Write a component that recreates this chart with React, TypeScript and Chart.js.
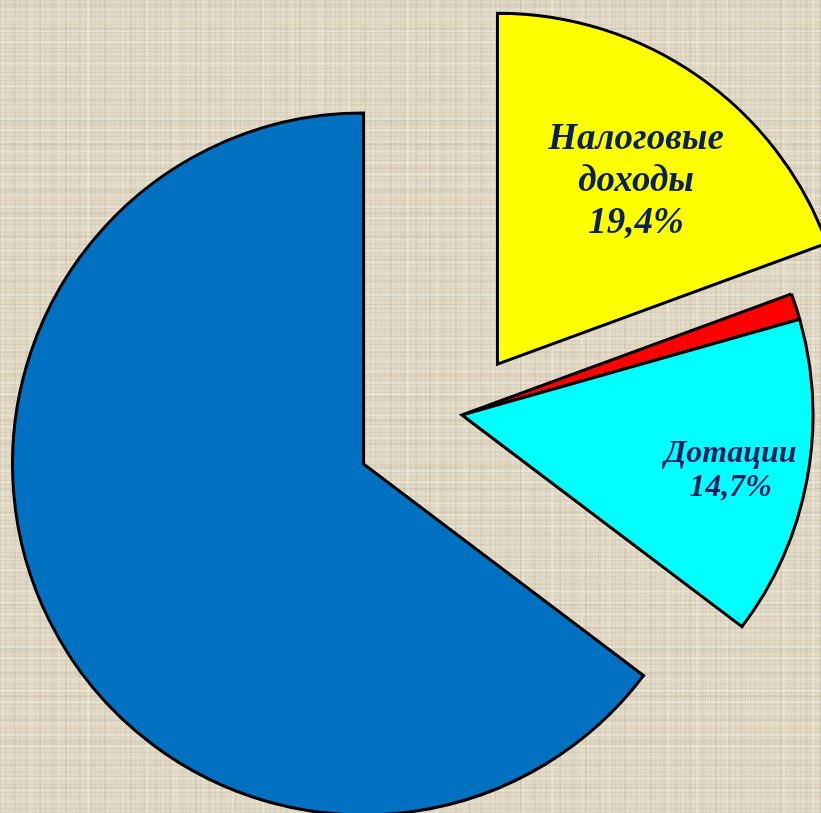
import React, { useEffect, useRef } from "react";
import { Chart, registerables } from "chart.js";

Chart.register(...registerables);

// ---- data ----
const categories = ["Налоговые доходы", "Неналоговые доходы", "Дотации", "Субвенции"];
const shares = [19.4, 1.2, 14.7, 64.7];
const sliceColors = ["#ffff00", "#ff0000", "#00ffff", "#0070c0"];
// which slices carry a text label (lines of category text)
const labelLines: (string[] | null)[] = [["Налоговые", "доходы"], null, ["Дотации"], null];

// ---- styles ----
const explode = [62, 0, 0, 110]; // px the slice is pulled out along its mid-angle
const labelRadiusFrac = [0.66, 0, 0.78, 0];
const labelAngleShift = [0.032, 0, 0.01, 0];
const labelFontSize = [37, 0, 32, 0];
const labelLineHeight = [42, 0, 34, 0];
const TEXT_COLOR = "#0a1f5e";
const FONT_FAMILY = "'Times New Roman', 'Liberation Serif', serif";

const fmtPct = (v: number) => v.toFixed(1).replace(".", ",") + "%";

const explodePlugin = {
  id: "explodeDraw",
  beforeDatasetDraw(chart: any, args: any) {
    const ctx = chart.ctx;
    const meta = args.meta;
    meta.data.forEach((arc: any, i: number) => {
      const { startAngle, endAngle } = arc.getProps(["startAngle", "endAngle"], true);
      const mid = (startAngle + endAngle) / 2;
      const d = explode[i] || 0;
      ctx.save();
      ctx.miterLimit = 2.5;
      ctx.translate(Math.cos(mid) * d, Math.sin(mid) * d);
      arc.draw(ctx, chart.chartArea);
      ctx.restore();
    });
    return false;
  },
};

const labelPlugin = {
  id: "sliceLabels",
  afterDatasetsDraw(chart: any) {
    const ctx = chart.ctx;
    const meta = chart.getDatasetMeta(0);
    const values = chart.data.datasets[0].data as number[];
    meta.data.forEach((arc: any, i: number) => {
      const lines = labelLines[i];
      if (!lines) return;
      const { x, y, startAngle, endAngle, outerRadius } = arc.getProps(
        ["x", "y", "startAngle", "endAngle", "outerRadius"],
        true
      );
      const mid = (startAngle + endAngle) / 2;
      const d = explode[i] || 0;
      const ox = x + Math.cos(mid) * d;
      const oy = y + Math.sin(mid) * d;
      const la = mid + labelAngleShift[i];
      const r = outerRadius * labelRadiusFrac[i];
      const cx = ox + Math.cos(la) * r;
      const cy = oy + Math.sin(la) * r;
      const all = [...lines, fmtPct(values[i])];
      const fs = labelFontSize[i];
      const lh = labelLineHeight[i];
      ctx.save();
      ctx.font = `italic bold ${fs}px ${FONT_FAMILY}`;
      ctx.fillStyle = TEXT_COLOR;
      ctx.textAlign = "center";
      ctx.textBaseline = "alphabetic";
      const n = all.length;
      all.forEach((t, k) => {
        const by = cy + (k - (n - 1) / 2) * lh + fs * 0.33;
        ctx.fillText(t, cx, by);
      });
      ctx.restore();
    });
  },
};

export default function App() {
  const ref = useRef<HTMLCanvasElement | null>(null);

  useEffect(() => {
    document.body.style.margin = "0";
    const canvas = ref.current;
    if (!canvas) return;
    const chart = new Chart(canvas, {
      type: "pie",
      data: {
        labels: categories,
        datasets: [
          {
            data: shares,
            backgroundColor: sliceColors,
            borderColor: "#000000",
            borderWidth: 3,
            borderJoinStyle: "miter",
            radius: 351,
            clip: false,
          } as any,
        ],
      },
      options: {
        responsive: false,
        maintainAspectRatio: false,
        devicePixelRatio: 1,
        animation: false,
        events: [],
        layout: { padding: { left: 103, right: 0, top: 17, bottom: 0 } },
        plugins: {
          legend: { display: false },
          tooltip: { enabled: false },
        },
      } as any,
      plugins: [explodePlugin, labelPlugin],
    });
    return () => chart.destroy();
  }, []);

  const bg: React.CSSProperties = {
    width: 821,
    height: 813,
    position: "relative",
    overflow: "hidden",
    backgroundColor: "#e2dac7",
    backgroundImage: [
      "repeating-linear-gradient(0deg, rgba(120,100,70,0.07) 0px, rgba(120,100,70,0.07) 1px, transparent 1px, transparent 4px)",
      "repeating-linear-gradient(90deg, rgba(120,100,70,0.07) 0px, rgba(120,100,70,0.07) 1px, transparent 1px, transparent 5px)",
      "repeating-linear-gradient(0deg, rgba(255,255,245,0.25) 0px, rgba(255,255,245,0.25) 2px, transparent 2px, transparent 11px)",
      "repeating-linear-gradient(90deg, rgba(110,95,70,0.07) 0px, rgba(110,95,70,0.07) 2px, transparent 2px, transparent 13px)",
      "repeating-linear-gradient(90deg, rgba(255,255,240,0.18) 0px, rgba(255,255,240,0.18) 3px, transparent 3px, transparent 29px)",
      "repeating-linear-gradient(0deg, rgba(110,95,70,0.06) 0px, rgba(110,95,70,0.06) 3px, transparent 3px, transparent 23px)",
    ].join(","),
  };

  return (
    <div style={bg}>
      <canvas ref={ref} width={821} height={813} style={{ display: "block" }} />
    </div>
  );
}
